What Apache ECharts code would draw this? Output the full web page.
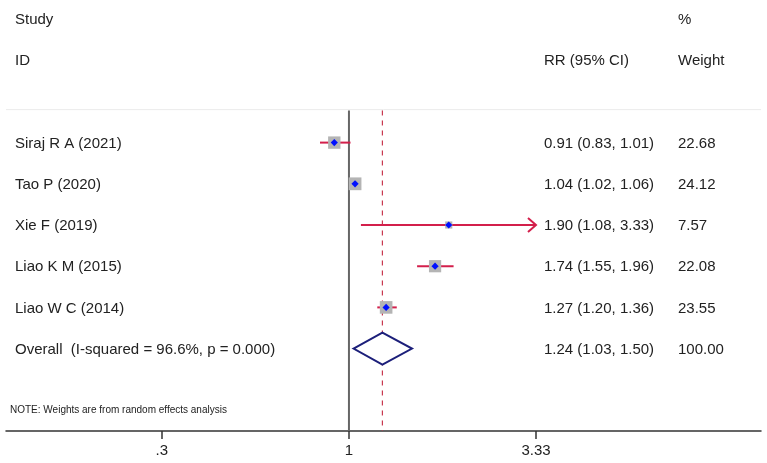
<!DOCTYPE html>
<html>
<head>
<meta charset="utf-8">
<script src="https://cdn.jsdelivr.net/npm/echarts@6/dist/echarts.min.js"></script>
<style>
  html, body { margin: 0; padding: 0; background: #fff; }
  #main { width: 767px; height: 463px; }
</style>
</head>
<body>
<div id="main"></div>
<script>
// study rows
var studies = ['Siraj R A (2021)', 'Tao P (2020)', 'Xie F (2019)', 'Liao K M (2015)', 'Liao W C (2014)'];
var rr = [0.91, 1.04, 1.90, 1.74, 1.27];
var ciLow = [0.83, 1.02, 1.08, 1.55, 1.20];
var ciHigh = [1.01, 1.06, 3.33, 1.96, 1.36];
var weights = [22.68, 24.12, 7.57, 22.08, 23.55];

// pooled estimate
var overallLabel = 'Overall  (I-squared = 96.6%, p = 0.000)';
var overall = [1.24, 1.03, 1.50];
var overallWeight = 100.00;

// x axis ticks
var tickValues = [0.3, 1, 3.33];
var tickLabels = ['.3', '1', '3.33'];
var ciMax = 3.33; // display limit, arrow when reached

var FONT = '"Liberation Sans", Arial, sans-serif';
var log = Math.log10;

function fmt(v) { return v.toFixed(2); }

var studyData = studies.map(function (s, i) {
  return [log(rr[i]), i, log(ciLow[i]), log(ciHigh[i]), weights[i]];
});

var chart = echarts.init(document.getElementById('main'));

var option = {
  animation: false,
  grid: { left: 6, right: 6, top: 19, bottom: 32 },
  xAxis: {
    type: 'value',
    min: -0.958,
    max: 1.151,
    splitLine: { show: false },
    axisLine: { onZero: false, lineStyle: { color: '#333', width: 1.5 } },
    axisTick: {
      customValues: tickValues.map(log),
      length: 8,
      lineStyle: { color: '#333', width: 1.5 }
    },
    axisLabel: {
      customValues: tickValues.map(log),
      margin: 12,
      fontSize: 15,
      fontFamily: FONT,
      color: '#222',
      formatter: function (v) {
        var best = 0;
        tickValues.forEach(function (t, k) {
          if (Math.abs(log(t) - v) < Math.abs(log(tickValues[best]) - v)) best = k;
        });
        return tickLabels[best];
      }
    }
  },
  yAxis: {
    type: 'value',
    inverse: true,
    min: -3,
    max: 7,
    show: false
  },
  series: [
    {
      // faint separator under the header
      type: 'line',
      data: [[-0.958, -0.8], [1.151, -0.8]],
      symbol: 'none',
      lineStyle: { color: '#ebebeb', width: 1 },
      z: 1
    },
    {
      // line of no effect
      type: 'line',
      data: [[0, -0.78], [0, 7]],
      symbol: 'none',
      lineStyle: { color: '#666', width: 2 },
      z: 2
    },
    {
      // pooled estimate reference line
      type: 'line',
      data: [[log(overall[0]), -0.78], [log(overall[0]), 7]],
      symbol: 'none',
      lineStyle: { color: '#c8384f', width: 1.2, type: [5, 5] },
      z: 2
    },
    {
      type: 'custom',
      z: 5,
      data: studyData,
      renderItem: function (params, api) {
        var row = api.value(1);
        var c = api.coord([api.value(0), row]);
        var lo = api.coord([api.value(2), row]);
        var hi = api.coord([api.value(3), row]);
        var sq = 2.6 * Math.sqrt(api.value(4));
        var d = 3.6;
        var children = [
          { type: 'line', shape: { x1: lo[0], y1: lo[1], x2: hi[0], y2: hi[1] },
            style: { stroke: '#d31f4b', lineWidth: 2 } },
          { type: 'rect', shape: { x: c[0] - sq / 2, y: c[1] - sq / 2, width: sq, height: sq },
            style: { fill: '#b4b4b4' } },
          { type: 'polygon', shape: { points: [[c[0] - d, c[1]], [c[0], c[1] - d], [c[0] + d, c[1]], [c[0], c[1] + d]] },
            style: { fill: '#0010ff' } }
        ];
        if (ciHigh[params.dataIndex] >= ciMax) {
          children.push({
            type: 'polyline',
            shape: { points: [[hi[0] - 8, hi[1] - 7], [hi[0], hi[1]], [hi[0] - 8, hi[1] + 7]] },
            style: { stroke: '#d31f4b', lineWidth: 2, fill: null }
          });
        }
        return { type: 'group', children: children };
      }
    },
    {
      type: 'custom',
      z: 5,
      data: [[log(overall[0]), 5, log(overall[1]), log(overall[2])]],
      renderItem: function (params, api) {
        var row = api.value(1);
        var c = api.coord([api.value(0), row]);
        var lo = api.coord([api.value(2), row]);
        var hi = api.coord([api.value(3), row]);
        var h = 16;
        return {
          type: 'polygon',
          shape: { points: [[lo[0], c[1]], [c[0], c[1] - h], [hi[0], c[1]], [c[0], c[1] + h]] },
          style: { fill: '#fff', stroke: '#1c1f7a', lineWidth: 2 }
        };
      }
    },
    {
      // table text
      type: 'custom',
      z: 6,
      data: [[-3], [-2], [0], [1], [2], [3], [4], [5], [6.46]],
      renderItem: function (params, api) {
        var row = api.value(0);
        var y = api.coord([0, row])[1] + 1;
        var i = params.dataIndex;
        var cells;
        if (i === 0) cells = [[15, 'Study'], [678, '%']];
        else if (i === 1) cells = [[15, 'ID'], [544, 'RR (95% CI)'], [678, 'Weight']];
        else if (i <= 6) {
          var k = i - 2;
          cells = [[15, studies[k]],
                   [544, fmt(rr[k]) + ' (' + fmt(ciLow[k]) + ', ' + fmt(ciHigh[k]) + ')'],
                   [678, fmt(weights[k])]];
        } else if (i === 7) {
          cells = [[15, overallLabel],
                   [544, fmt(overall[0]) + ' (' + fmt(overall[1]) + ', ' + fmt(overall[2]) + ')'],
                   [678, fmt(overallWeight)]];
        } else {
          return {
            type: 'text',
            style: { x: 10, y: y, text: 'NOTE: Weights are from random effects analysis',
                     font: '10px ' + FONT, fill: '#222', verticalAlign: 'middle' }
          };
        }
        return {
          type: 'group',
          children: cells.map(function (cell) {
            return {
              type: 'text',
              style: { x: cell[0], y: y, text: cell[1], font: '15px ' + FONT,
                       fill: '#222', verticalAlign: 'middle' }
            };
          })
        };
      }
    }
  ]
};

chart.setOption(option);
</script>
</body>
</html>
